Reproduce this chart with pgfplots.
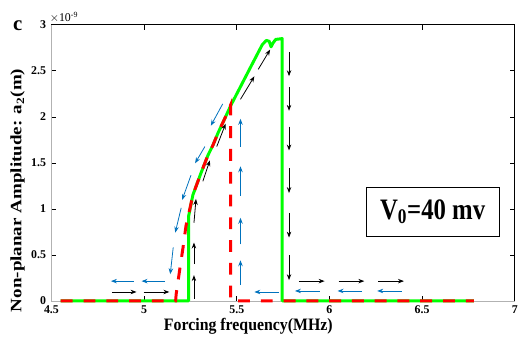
\documentclass[border=0pt]{standalone}
\usepackage{fontspec}
\setmainfont{Liberation Serif}
\usepackage{graphicx}
\usepackage{pgfplots}
\pgfplotsset{compat=1.18}
\usetikzlibrary{arrows.meta}
\definecolor{lgreen}{RGB}{0,255,0}
\definecolor{mred}{RGB}{255,0,0}
\definecolor{mblue}{RGB}{0,114,189}

\pgfplotstableread{
x y u v
4.826 0.097 0.133 0
4.997 0.097 0.139 0
5.269 0.022 0 0.258
5.269 0.40 0 0.234
5.269 0.849 0.011 0.259
5.317 1.30 0.038 0.227
5.392 1.677 0.048 0.248
5.52 2.19 0.075 0.25
5.616 2.516 0.064 0.214
5.782 2.699 0 -0.258
5.782 2.323 0 -0.258
5.782 1.892 0 -0.258
5.782 1.441 0 -0.269
5.782 0.957 0 -0.269
5.782 0.495 0 -0.269
5.835 0.215 0.139 0
6.049 0.215 0.139 0
6.263 0.215 0.139 0
}\blackarrows

\pgfplotstableread{
x y u v
4.943 0.215 -0.122 0
5.114 0.215 -0.128 0
5.729 0.097 -0.134 0
5.948 0.108 -0.134 0
6.177 0.108 -0.133 0
6.391 0.108 -0.133 0
5.52 0.172 0 0.269
5.52 0.613 0 0.29
5.52 1.14 0 0.322
5.52 1.677 0 0.301
5.424 2.14 -0.064 -0.237
5.328 1.677 -0.053 -0.182
5.253 1.366 -0.048 -0.269
5.2 1.011 -0.032 -0.269
5.157 0.581 -0.016 -0.291
}\bluearrows

\begin{document}
\begin{tikzpicture}
\begin{axis}[
  at={(0,0)}, anchor=south west,
  scale only axis, width=468pt, height=279pt,
  xmin=4.5, xmax=7, ymin=0, ymax=3,
  clip=false,
  xtick={4.5,5,5.5,6,6.5,7}, ytick={0,0.5,1,1.5,2,2.5,3},
  xticklabels={4.5,5,5.5,6,6.5,7},
  yticklabels={0,0.5,1,1.5,2,2.5,3},
  tick align=inside, major tick length=5pt,
  tick style={black, line width=0.6pt},
  axis line style={gray!60, line width=0.6pt},
  ticklabel style={font=\bfseries\fontsize{12}{12}\selectfont},
  xticklabel style={yshift=-1.5pt},
  yticklabel style={xshift=-2pt},
  xlabel={\scalebox{1}[1.1]{Forcing frequency(MHz)}},
  xlabel style={at={(axis description cs:0.425,-0.092)}, anchor=center, font=\bfseries\fontsize{16}{16}\selectfont},
  ylabel={\scalebox{1.2}[1]{Non-planar Amplitude: a\textsubscript{2}(m)}},
  ylabel style={at={(axis description cs:-0.073,0.40)}, anchor=center, font=\bfseries\fontsize{16}{16}\selectfont},
]
\addplot[lgreen, line width=3pt, line join=round] coordinates {
(4.55,0) (5.24,0) (5.24,0.92) (5.263,1.15) (5.307,1.39) (5.344,1.58) (5.371,1.69) (5.40,1.83) (5.435,1.98) (5.467,2.12) (5.531,2.37) (5.585,2.58) (5.638,2.785) (5.66,2.83) (5.675,2.82) (5.685,2.76) (5.695,2.80) (5.71,2.84) (5.745,2.85) (5.745,0) (6.78,0)
};
\addplot[mred, line width=3pt, dash pattern=on 12pt off 11pt] coordinates {
(4.55,0) (5.17,0) (5.173,0.075) (5.194,0.366) (5.21,0.58) (5.226,0.817) (5.242,0.957) (5.263,1.15) (5.307,1.39) (5.344,1.58) (5.371,1.69) (5.40,1.83) (5.435,1.98) (5.467,2.13) (5.467,0) (6.78,0)
};
\addplot[black, line width=0.8pt, -{Stealth[length=6pt,width=4.5pt]}, quiver={u=\thisrow{u}, v=\thisrow{v}}] table[x=x,y=y] {\blackarrows};
\addplot[mblue, line width=0.8pt, -{Stealth[length=6pt,width=4.5pt]}, quiver={u=\thisrow{u}, v=\thisrow{v}}] table[x=x,y=y] {\bluearrows};
\draw[black, line width=0.6pt] (rel axis cs:0,1) -- (rel axis cs:1,1) -- (rel axis cs:1,0);
\node[draw=black, line width=0.8pt, minimum width=134pt, minimum height=50pt, inner sep=0pt] at (axis cs:6.557,0.968)
  {\scalebox{1}[1.2]{\bfseries\fontsize{25}{25}\selectfont V\textsubscript{0}=40 mv}};
\node[font=\bfseries\fontsize{21}{21}\selectfont, anchor=center] at (axis description cs:-0.073,0.996) {c};
\node[font=\fontsize{12}{12}\selectfont, anchor=base west, inner sep=0pt] at (axis description cs:-0.004,1.011) {$\times$10\textsuperscript{-9}};
\end{axis}
\path[use as bounding box] (-52pt,-34pt) rectangle (469pt,304pt);
\end{tikzpicture}
\end{document}
